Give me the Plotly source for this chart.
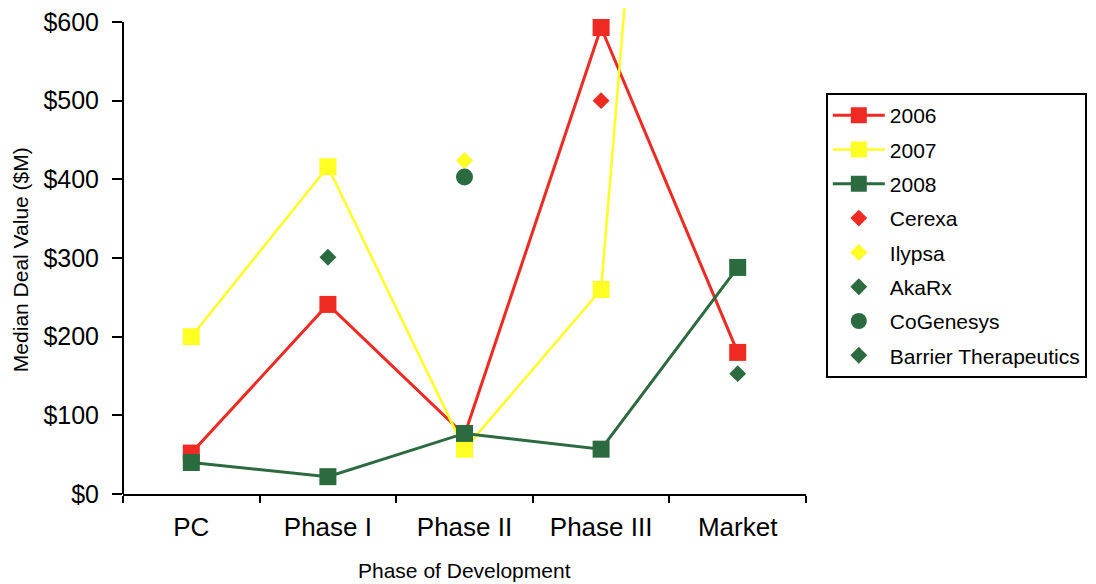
import plotly.graph_objects as go

# Phases of development (category axis)
phases = ["PC", "Phase I", "Phase II", "Phase III", "Market"]

# Median deal value ($M) by year
deal_2006 = [52, 241, 75, 593, 180]
deal_2007 = [200, 416, 57, 260, 2350]
deal_2008 = [40, 22, 77, 57, 288]

# Individual deals
deal_names = ["Cerexa", "Ilypsa", "AkaRx", "CoGenesys", "Barrier Therapeutics"]
deal_phase = ["Phase III", "Phase II", "Phase I", "Phase II", "Market"]
deal_value = [500, 424, 301, 403, 153]

# Y-axis ticks
y_ticks = [0, 100, 200, 300, 400, 500, 600]
y_tick_text = ["$0", "$100", "$200", "$300", "$400", "$500", "$600"]

RED = "#ee2a22"
YELLOW = "#ffff24"
GREEN = "#2b6b3f"
FONT = "Liberation Sans, Arial, sans-serif"

fig = go.Figure()

series = [("2006", deal_2006, RED, 3), ("2007", deal_2007, YELLOW, 2.5), ("2008", deal_2008, GREEN, 3)]
for name, vals, color, w in series:
    fig.add_trace(go.Scatter(
        x=phases, y=vals, name=name, mode="lines+markers",
        line=dict(color=color, width=w),
        marker=dict(symbol="square", size=17, color=color, line=dict(width=0)),
        legendgroup=name,
    ))

deal_styles = {
    "Cerexa": (RED, "diamond", 13),
    "Ilypsa": (YELLOW, "diamond", 13),
    "AkaRx": (GREEN, "diamond", 13),
    "CoGenesys": (GREEN, "circle", 17),
    "Barrier Therapeutics": (GREEN, "diamond", 13),
}
for name, ph, val in zip(deal_names, deal_phase, deal_value):
    color, sym, size = deal_styles[name]
    fig.add_trace(go.Scatter(
        x=[ph], y=[val], name=name, mode="markers",
        marker=dict(symbol=sym, size=size, color=color, line=dict(width=0)),
        legendgroup=name,
    ))

# Y axis line only spans the labelled range
fig.add_shape(type="line", xref="paper", yref="y", x0=0, x1=0, y0=0, y1=600,
              line=dict(color="black", width=2), layer="above")

fig.update_layout(
    width=1096, height=584,
    margin=dict(l=123, r=290, t=8, b=90),
    paper_bgcolor="white", plot_bgcolor="white",
    font=dict(family=FONT, color="black"),
    showlegend=True,
    legend=dict(
        x=1.029, y=0.825, xanchor="left", yanchor="top",
        bordercolor="black", borderwidth=2,
        font=dict(size=21, family=FONT, color="black"),
        traceorder="grouped", tracegroupgap=4, itemwidth=52,
    ),
    xaxis=dict(
        type="category", categoryorder="array", categoryarray=phases,
        range=[-0.5, 4.5],
        showline=True, linecolor="black", linewidth=2,
        ticks="outside", tickson="boundaries", ticklen=7, tickwidth=2, tickcolor="black",
        tickfont=dict(size=26, family=FONT, color="black"),
        ticklabelstandoff=9,
        showgrid=False, zeroline=False,
    ),
    yaxis=dict(
        range=[0, 617.8],
        tickmode="array", tickvals=y_ticks, ticktext=y_tick_text,
        showline=False,
        ticks="outside", ticklen=10, tickwidth=2, tickcolor="black",
        tickfont=dict(size=25, family=FONT, color="black"),
        ticklabelstandoff=8,
        showgrid=False, zeroline=False,
    ),
    annotations=[
        dict(text="Phase of Development", xref="paper", yref="paper",
             x=0.5, y=-0.157, xanchor="center", yanchor="middle",
             showarrow=False, font=dict(size=21, family=FONT, color="black")),
        dict(text="Median Deal Value ($M)", xref="paper", yref="paper",
             x=-0.151, y=0.483, xanchor="center", yanchor="middle", textangle=-90,
             showarrow=False, font=dict(size=21, family=FONT, color="black")),
    ],
)

fig.write_html("out.html")
